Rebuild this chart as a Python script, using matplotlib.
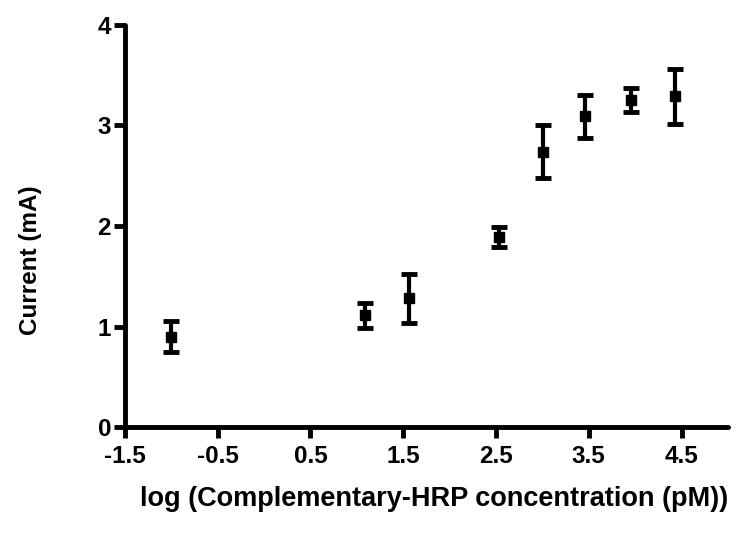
import matplotlib
matplotlib.use("Agg")
import matplotlib.pyplot as plt

log_conc = [-1.0, 1.09, 1.56, 2.53, 3.01, 3.46, 3.95, 4.43]
current = [0.90, 1.11, 1.28, 1.89, 2.74, 3.09, 3.25, 3.29]
err = [0.155, 0.12, 0.245, 0.10, 0.26, 0.21, 0.12, 0.275]

x_ticks = [-1.5, -0.5, 0.5, 1.5, 2.5, 3.5, 4.5]
y_ticks = [0, 1, 2, 3, 4]

plt.rcParams["font.family"] = ["Liberation Sans", "DejaVu Sans"]
plt.rcParams["font.weight"] = "bold"

fig = plt.figure(figsize=(7.39, 5.42), dpi=100)
ax = fig.add_axes([0.169, 0.212, 0.816, 0.742])

ax.errorbar(log_conc, current, yerr=err, fmt="s", color="black",
            markersize=7.5, elinewidth=3, capsize=6, capthick=3.5,
            ecolor="black", clip_on=False)

ax.set_xlim(-1.5, 5.0)
ax.set_ylim(0, 4)
ax.set_xticks(x_ticks)
ax.set_xticklabels([str(t) for t in x_ticks])
ax.set_yticks(y_ticks)

for side in ["top", "right"]:
    ax.spines[side].set_visible(False)
for side in ["left", "bottom"]:
    ax.spines[side].set_linewidth(3.5)
    ax.spines[side].set_capstyle("round")

ax.tick_params(axis="both", direction="out", length=8, width=3.5,
               labelsize=17.5, pad=2)
ax.tick_params(axis="x", pad=5)
for lbl in ax.get_xticklabels() + ax.get_yticklabels():
    lbl.set_fontweight("bold")
for t in ax.xaxis.get_ticklines() + ax.yaxis.get_ticklines():
    t.set_solid_capstyle("round")

ax.set_ylabel("Current (mA)", fontsize=17.5, fontweight="bold")
ax.yaxis.set_label_coords(-0.156, 0.415)
ax.set_xlabel("log (Complementary-HRP concentration (pM))", fontsize=19.5,
              fontweight="bold")
ax.xaxis.set_label_coords(0.512, -0.18)
ax.xaxis.label.set_verticalalignment("center")
ax.yaxis.label.set_verticalalignment("center")

fig.savefig("out.png", dpi=100)
